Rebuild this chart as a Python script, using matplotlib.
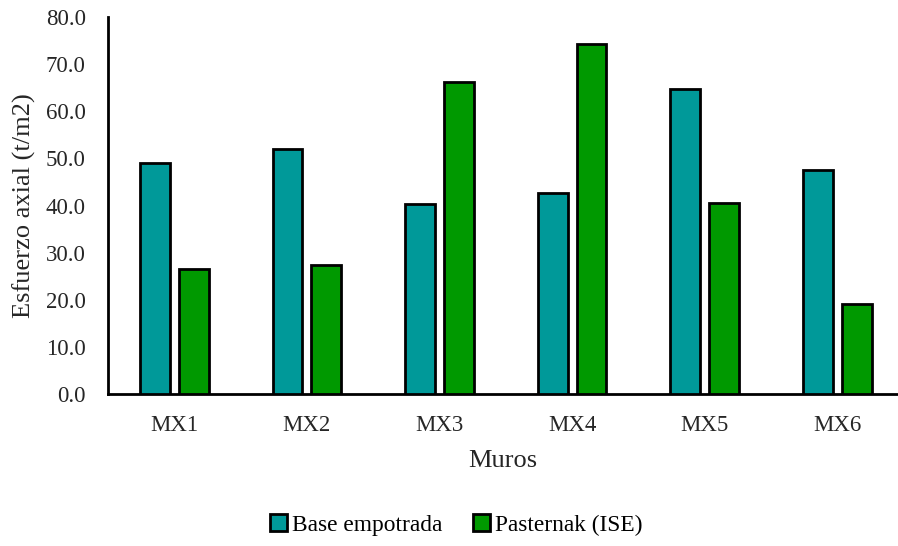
import matplotlib.pyplot as plt
import numpy as np

plt.rcParams['font.family'] = ['Liberation Serif', 'DejaVu Serif']

muros = ['MX1', 'MX2', 'MX3', 'MX4', 'MX5', 'MX6']
base_empotrada = [49.0, 51.9, 40.3, 42.7, 64.8, 47.6]
pasternak = [26.5, 27.4, 66.2, 74.3, 40.6, 19.0]

fig = plt.figure(figsize=(8.98, 5.46), dpi=100)
ax = fig.add_axes([108 / 898, 1 - 394 / 546, 790 / 898, 377 / 546])

x = np.arange(len(muros))
w = 0.225
off = 0.146
ax.bar(x - off, base_empotrada, w, color='#009999', edgecolor='black', lw=2,
       label='Base empotrada', zorder=3)
ax.bar(x + off, pasternak, w, color='#009900', edgecolor='black', lw=2,
       label='Pasternak (ISE)', zorder=3)

ax.set_xlim(-0.5, -0.5 + 790 / 132.6)
ax.set_ylim(0, 80)
ax.set_yticks(np.arange(0, 81, 10))
ax.set_yticklabels([f'{v:.1f}' for v in np.arange(0, 81, 10)])
ax.set_xticks(x)
ax.set_xticklabels(muros)
ax.tick_params(axis='both', length=0, labelsize=16.5, colors='#262626')
ax.tick_params(axis='y', pad=16)
ax.tick_params(axis='x', pad=15)

for s in ['top', 'right']:
    ax.spines[s].set_visible(False)
ax.spines['left'].set_linewidth(2)
ax.spines['bottom'].set_linewidth(2)

ax.set_ylabel('Esfuerzo axial (t/m2)', fontsize=19, color='#262626')
ax.yaxis.set_label_coords(-72 / 790, 0.5)
ax.set_xlabel('Muros', fontsize=19, color='#262626')
ax.xaxis.set_label_coords(0.5, -56 / 377)

fig.legend(loc='center', bbox_to_anchor=(0.508, 1 - 525 / 546), ncol=2, frameon=False,
           fontsize=16.8, handlelength=0.75, handleheight=0.75, handletextpad=0.2,
           columnspacing=1.3)

fig.savefig('out.png', dpi=100)
